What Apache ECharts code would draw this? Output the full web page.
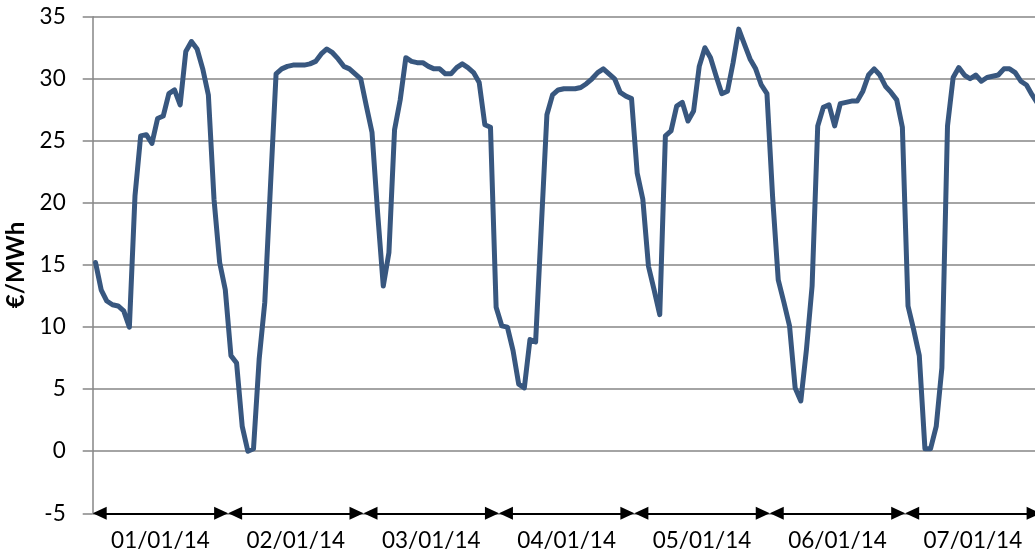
<!DOCTYPE html>
<html><head><meta charset="utf-8">
<script src="https://cdn.jsdelivr.net/npm/echarts@6/dist/echarts.min.js"></script>
<style>html,body{margin:0;padding:0;background:#fff}#c{width:1035px;height:556px}</style>
</head><body><div id="c"></div>
<script>
const dayLabels = ['01/01/14', '02/01/14', '03/01/14', '04/01/14', '05/01/14', '06/01/14', '07/01/14'];
const yTicks = [-5, 0, 5, 10, 15, 20, 25, 30, 35];
const day1 = [15.2, 13.0, 12.1, 11.8, 11.7, 11.3, 10.0, 20.6, 25.4, 25.5, 24.8, 26.8, 27.0, 28.8, 29.1, 27.9, 32.2, 33.0, 32.4, 30.8, 28.7, 20.3, 15.2, 13.0];
const day2 = [7.7, 7.1, 2.0, 0.0, 0.2, 7.4, 12.0, 21.3, 30.4, 30.8, 31.0, 31.1, 31.1, 31.1, 31.2, 31.4, 32.0, 32.4, 32.1, 31.6, 31.0, 30.8, 30.4, 30.0];
const day3 = [27.8, 25.7, 19.2, 13.3, 16.0, 25.9, 28.3, 31.7, 31.4, 31.3, 31.3, 31.0, 30.8, 30.8, 30.4, 30.4, 30.9, 31.2, 30.9, 30.5, 29.7, 26.3, 26.1, 11.6];
const day4 = [10.1, 10.0, 8.1, 5.4, 5.1, 9.0, 8.8, 18.0, 27.1, 28.7, 29.1, 29.2, 29.2, 29.2, 29.3, 29.6, 30.0, 30.5, 30.8, 30.4, 30.0, 28.9, 28.6, 28.4];
const day5 = [22.4, 20.3, 14.9, 13.0, 11.0, 25.4, 25.8, 27.8, 28.1, 26.6, 27.4, 31.0, 32.5, 31.7, 30.2, 28.8, 29.0, 31.3, 34.0, 32.8, 31.6, 30.8, 29.5, 28.8];
const day6 = [20.5, 13.8, 12.0, 10.1, 5.1, 4.05, 8.2, 13.3, 26.2, 27.7, 27.9, 26.2, 28.0, 28.1, 28.2, 28.2, 29.0, 30.3, 30.8, 30.3, 29.4, 28.9, 28.3, 26.1];
const day7 = [11.7, 9.8, 7.7, 0.2, 0.2, 2.0, 6.7, 26.2, 30.1, 30.9, 30.3, 30.0, 30.3, 29.8, 30.1, 30.2, 30.3, 30.8, 30.8, 30.5, 29.8, 29.5, 28.7, 28.0];

const hoursPerDay = 24;
const prices = [].concat(day1, day2, day3, day4, day5, day6, day7);
const seriesData = prices.map((v, i) => [i + 0.5, v]);
const yMin = yTicks[0], yMax = yTicks[yTicks.length - 1], yStep = yTicks[1] - yTicks[0];
const totalHours = dayLabels.length * hoursPerDay;

const gridLeft = 92.7, gridRight = -5.6;
const plotWidth = 1035 - gridLeft - gridRight;
const arrowLen = 14;                                   // px, triangle length
const arrowInset = (arrowLen / 2) / (plotWidth / totalHours); // hours, so the tip sits on the day boundary
const arrows = dayLabels.map((d, k) => [
  { coord: [k * hoursPerDay + arrowInset, yMin] },
  { coord: [(k + 1) * hoursPerDay - arrowInset, yMin] }
]);

const chart = echarts.init(document.getElementById('c'), null, { renderer: 'canvas' });
chart.setOption({
  animation: false,
  grid: { left: gridLeft, right: gridRight, top: 16.7, bottom: 42.7, containLabel: false, outerBoundsMode: 'none' },
  xAxis: {
    type: 'value', min: 0, max: totalHours, interval: hoursPerDay / 2,
    axisLine: { show: false }, axisTick: { show: false }, splitLine: { show: false },
    axisLabel: {
      formatter: v => (v % hoursPerDay === hoursPerDay / 2 ? dayLabels[(v - hoursPerDay / 2) / hoursPerDay] : ''),
      color: '#000', fontFamily: 'Lato', fontSize: 22.5, margin: 16
    }
  },
  yAxis: {
    type: 'value', min: yMin, max: yMax, interval: yStep,
    name: '€/MWh', nameLocation: 'middle', nameGap: 64,
    nameTextStyle: { fontFamily: 'Lato', fontWeight: 'bold', fontSize: 24, color: '#000' },
    axisLine: { show: true, lineStyle: { color: '#868686', width: 1.5 } },
    axisTick: { show: true, length: 10, lineStyle: { color: '#868686', width: 1.5 } },
    splitLine: { show: true, lineStyle: { color: '#868686', width: 1.5 } },
    axisLabel: { color: '#000', fontFamily: 'Lato', fontSize: 22.5, margin: 27 }
  },
  series: [{
    type: 'line', data: seriesData, symbol: 'none', showSymbol: false, clip: false,
    lineStyle: { color: '#38577f', width: 5, join: 'round', cap: 'round' },
    markLine: {
      silent: true, animation: false,
      symbol: ['triangle', 'triangle'], symbolSize: [13, arrowLen],
      label: { show: false },
      lineStyle: { color: '#000', width: 2, type: 'solid' },
      emphasis: { disabled: true },
      data: arrows
    }
  }]
});
</script></body></html>
